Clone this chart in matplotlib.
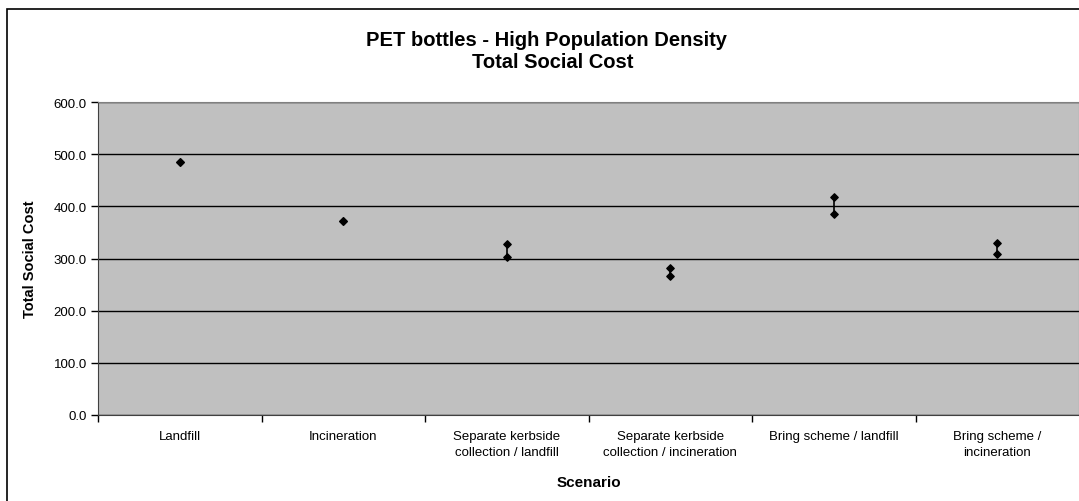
import matplotlib.pyplot as plt
from matplotlib.patches import Rectangle

plt.rcParams['font.family'] = ['Liberation Sans', 'DejaVu Sans']

scenarios = ['Landfill', 'Incineration', 'Separate kerbside\ncollection / landfill',
             'Separate kerbside\ncollection / incineration', 'Bring scheme / landfill',
             'Bring scheme /\nincineration']
cost_low = [485, 371, 302, 266, 386, 308]
cost_high = [485, 371, 328, 282, 417, 329]
yticks = [0, 100, 200, 300, 400, 500, 600]

W, H = 1079, 502
fig = plt.figure(figsize=(W / 100, H / 100), dpi=100)
fig.patch.set_facecolor('white')

# chart frame (runs off the right and bottom edges)
fig.patches.append(Rectangle((7 / W, -0.1), 1.2, (H - 10) / H + 0.1,
                             transform=fig.transFigure, fill=False,
                             edgecolor='black', linewidth=1.2))

ax = fig.add_axes([98 / W, 86 / H, (W - 98) / W, 313 / H])
ax.set_facecolor('#c0c0c0')

x = list(range(1, len(scenarios) + 1))
ax.vlines(x, cost_low, cost_high, colors='black', linewidth=1.2, zorder=3)
ax.scatter(x, cost_low, marker='D', s=14, color='black', zorder=4)
ax.scatter(x, cost_high, marker='D', s=14, color='black', zorder=4)

ax.set_xlim(0.5, len(scenarios) + 0.5)
ax.set_ylim(0, 600)
ax.set_yticks(yticks)
ax.set_yticklabels([f'{v:.1f}' for v in yticks], fontsize=9.5)
ax.yaxis.grid(True, color='black', linewidth=1)
ax.set_axisbelow(True)

ax.set_xticks([v + 0.5 for v in range(0, len(scenarios))])
ax.set_xticklabels([])
ax.set_xticks(x, minor=True)
ax.set_xticklabels(scenarios, minor=True, fontsize=9.5, linespacing=1.4)
ax.tick_params(axis='x', which='minor', length=0, pad=11)
ax.tick_params(axis='x', which='major', length=5, width=1, direction='out')
ax.tick_params(axis='y', length=5, width=1, direction='out', pad=3)

for side in ['top', 'right']:
    ax.spines[side].set_color('#808080')
for side in ['left', 'bottom']:
    ax.spines[side].set_color('#404040')

ax.set_ylabel('Total Social Cost', fontsize=10.5, fontweight='bold', labelpad=12)
ax.set_xlabel('Scenario', fontsize=11, fontweight='bold', labelpad=12)

fig.text(547 / W, 1 - 41 / H, 'PET bottles - High Population Density',
         ha='center', va='center', fontsize=14.5, fontweight='bold')
fig.text(553 / W, 1 - 63 / H, 'Total Social Cost',
         ha='center', va='center', fontsize=14.5, fontweight='bold')

fig.savefig('out.png', dpi=100)
